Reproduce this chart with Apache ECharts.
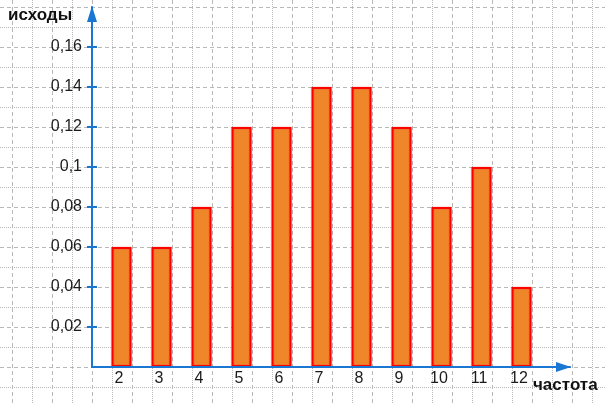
<!DOCTYPE html>
<html>
<head>
<meta charset="utf-8">
<script src="https://cdn.jsdelivr.net/npm/echarts@6/dist/echarts.min.js"></script>
<style>
html,body{margin:0;padding:0;background:#fff;}
#chart{width:605px;height:403px;}
</style>
</head>
<body>
<div id="chart"></div>
<script>
var categories = [2, 3, 4, 5, 6, 7, 8, 9, 10, 11, 12];
var values = [0.06, 0.06, 0.08, 0.12, 0.12, 0.14, 0.14, 0.12, 0.08, 0.10, 0.04];
var yTickValues = [0.02, 0.04, 0.06, 0.08, 0.1, 0.12, 0.14, 0.16];
var xAxisName = 'частота';
var yAxisName = 'исходы';

var FONT = '"Liberation Sans", Arial, sans-serif';
var AXIS_BLUE = '#1976D2';
var GRID_GRAY = '#b8b8b8';

var barData = categories.map(function (c, i) { return [c, values[i]]; });

function bgAxis(gridIndex, interval, max, dashType, showSplit) {
  return {
    type: 'value', gridIndex: gridIndex, min: 0, max: max, interval: interval,
    axisLine: {show: false}, axisTick: {show: false}, axisLabel: {show: false},
    splitLine: {show: showSplit, lineStyle: {color: GRID_GRAY, width: 1, type: dashType}},
    z: 0
  };
}

var DASH = [4, 3];
var DOT = [1, 1];

var chart = echarts.init(document.getElementById('chart'), null, {renderer: 'canvas'});
chart.setOption({
  animation: false,
  backgroundColor: '#ffffff',
  grid: [
    {left: 92, top: 7, width: 478, height: 360, outerBoundsMode: 'none', containLabel: false},
    // vertical dashed lines
    {left: 12, top: 0, width: 600, height: 403, outerBoundsMode: 'none', containLabel: false},
    // vertical dotted lines
    {left: 32, top: 0, width: 600, height: 403, outerBoundsMode: 'none', containLabel: false},
    // horizontal dashed lines
    {left: 0, top: 7, width: 605, height: 400, outerBoundsMode: 'none', containLabel: false},
    // horizontal dotted lines
    {left: 0, top: 27, width: 605, height: 400, outerBoundsMode: 'none', containLabel: false}
  ],
  xAxis: [
    {
      type: 'value', gridIndex: 0, min: 1.2625, max: 13.2125,
      axisLine: {show: true, lineStyle: {color: AXIS_BLUE, width: 2},
        symbol: ['none', 'triangle'], symbolSize: [10, 15], symbolOffset: [0, -6.5]},
      axisTick: {show: false},
      axisLabel: {
        show: true, customValues: categories, margin: 4, color: '#1a1a1a',
        fontFamily: FONT, fontSize: 16, padding: [0, 5, 0, 0],
        formatter: function (v) { return String(Math.round(v)); }
      },
      splitLine: {show: false},
      z: 5
    },
    bgAxis(1, 40, 600, DASH, true),
    bgAxis(2, 40, 600, DOT, true),
    bgAxis(3, 605, 605, DASH, false),
    bgAxis(4, 605, 605, DOT, false)
  ],
  yAxis: [
    {
      type: 'value', gridIndex: 0, min: 0, max: 0.18, position: 'left',
      axisLine: {show: true, lineStyle: {color: AXIS_BLUE, width: 2},
        symbol: ['none', 'triangle'], symbolSize: [10, 16], symbolOffset: [0, -7]},
      axisTick: {show: true, customValues: yTickValues, inside: false, length: 5,
        lineStyle: {color: AXIS_BLUE, width: 2}},
      axisLabel: {
        show: true, customValues: yTickValues, margin: 10, color: '#1a1a1a',
        fontFamily: FONT, fontSize: 16,
        formatter: function (v) { return String(v).replace('.', ','); }
      },
      splitLine: {show: false},
      z: 5
    },
    {
      type: 'value', gridIndex: 0, min: 0, max: 0.18, position: 'left', offset: 0,
      axisLine: {show: false},
      axisTick: {show: true, customValues: yTickValues, inside: true, length: 5,
        lineStyle: {color: AXIS_BLUE, width: 2}},
      axisLabel: {show: false},
      splitLine: {show: false},
      z: 5
    },
    bgAxis(1, 403, 403, DASH, false),
    bgAxis(2, 403, 403, DOT, false),
    bgAxis(3, 40, 400, DASH, true),
    bgAxis(4, 40, 400, DOT, true)
  ],
  series: [
    {
      type: 'bar', xAxisIndex: 0, yAxisIndex: 0, data: barData, barWidth: 20,
      itemStyle: {color: '#F0862A', borderColor: '#FF0000', borderWidth: 2,
        shadowColor: 'rgba(255,0,0,0.35)', shadowBlur: 2},
      z: 2
    }
  ],
  graphic: [
    {type: 'text', left: 8, top: 7, z: 10,
      style: {text: yAxisName, font: 'bold 17px ' + FONT, fill: '#111'}},
    {type: 'text', left: 533, top: 377, z: 10,
      style: {text: xAxisName, font: 'bold 17px ' + FONT, fill: '#111'}}
  ]
});
</script>
</body>
</html>
